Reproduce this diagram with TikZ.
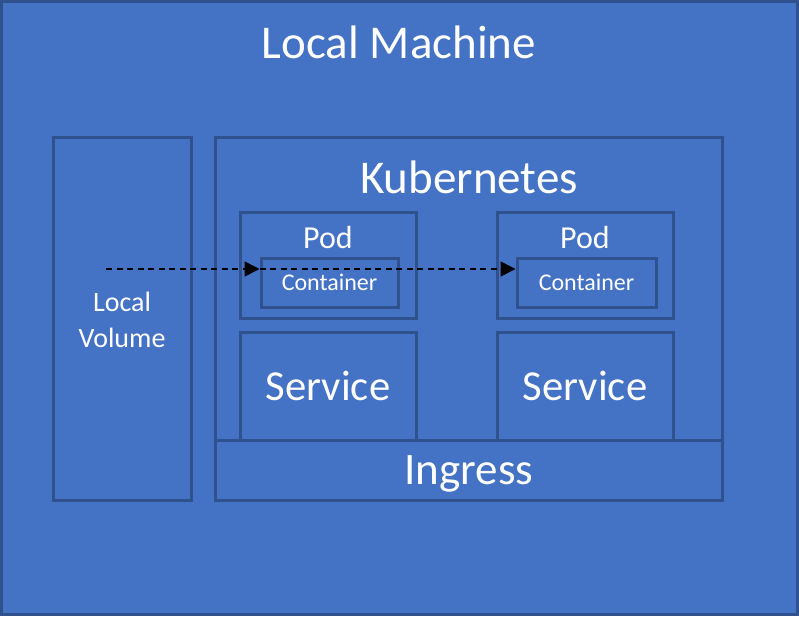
\documentclass[tikz,border=0pt]{standalone}
\usepackage{fontspec}
\setmainfont{Carlito}
\usetikzlibrary{arrows.meta}
\definecolor{boxfill}{HTML}{4472C4}
\definecolor{boxline}{HTML}{2F528F}
\begin{document}
\begin{tikzpicture}[x=1pt,y=-1pt,
  box/.style={draw=boxline,fill=boxfill,line width=3pt,inner sep=0pt},
  lbl/.style={text=white,inner sep=0pt,anchor=center},
  flow/.style={draw=black,line width=1.6pt,dash pattern=on 6pt off 4.5pt,-{Triangle[length=15pt,width=15pt]}}]
\useasboundingbox (0,0) rectangle (799,616);
\node[box,minimum width=796pt,minimum height=613pt] (machine) at (399.5,308) {};
\node[lbl,font=\fontsize{47}{56}\selectfont] (tmachine) at (399,42) {Local Machine};
\node[box,minimum width=138pt,minimum height=363pt] (volume) at (122,318.5) {};
\node[lbl,font=\fontsize{28}{36}\selectfont,align=center] (tvolume) at (122,320) {Local\\Volume};
\node[box,minimum width=507pt,minimum height=363pt] (kube) at (468.5,318.5) {};
\node[lbl,font=\fontsize{47}{56}\selectfont] (tkube) at (469,177) {Kubernetes};
\node[box,minimum width=176pt,minimum height=106pt] (pod1) at (328,265) {};
\node[box,minimum width=176pt,minimum height=106pt] (pod2) at (585,265) {};
\node[lbl,font=\fontsize{32}{38}\selectfont] (tpod1) at (328,237) {Pod};
\node[lbl,font=\fontsize{32}{38}\selectfont] (tpod2) at (585,237) {Pod};
\node[box,minimum width=137pt,minimum height=49pt,font=\fontsize{24}{28}\selectfont,text=white] (c1) at (329.5,282.5) {Container};
\node[box,minimum width=139pt,minimum height=49pt,font=\fontsize{24}{28}\selectfont,text=white] (c2) at (586.5,282.5) {Container};
\node[box,minimum width=176pt,minimum height=108pt,font=\fontsize{42.7}{50}\selectfont,text=white] (s1) at (328,386) {Service};
\node[box,minimum width=176pt,minimum height=108pt,font=\fontsize{42.7}{50}\selectfont,text=white] (s2) at (585,386) {Service};
\node[box,minimum width=507pt,minimum height=60pt] (ingress) at (468.5,470) {};
\node[lbl,font=\fontsize{45}{50}\selectfont] (tingress) at (469,474) {Ingress};
\coordinate (src) at (106,269);
\draw[flow] (src) -- (c1.west |- src);
\draw[flow] (c1.west |- src) -- (c2.west |- src);
\end{tikzpicture}
\end{document}
